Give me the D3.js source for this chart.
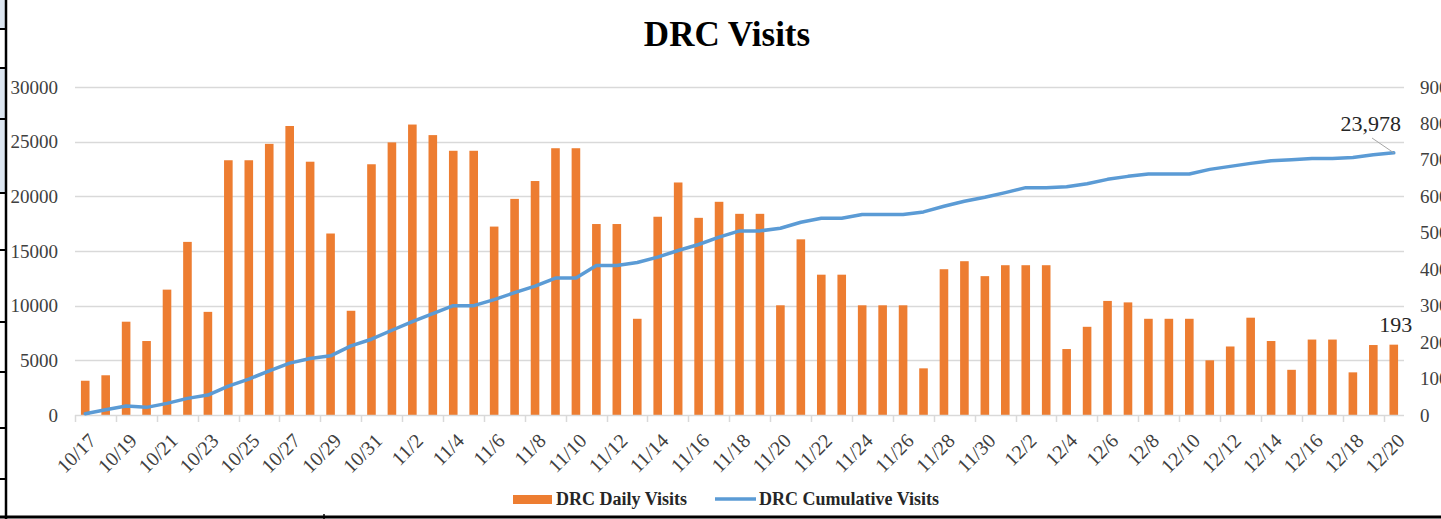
<!DOCTYPE html>
<html>
<head>
<meta charset="utf-8">
<script src="https://cdn.jsdelivr.net/npm/d3@7"></script>
<style>
  html, body { margin: 0; padding: 0; background: #ffffff; overflow: hidden; }
  svg { display: block; }
</style>
</head>
<body>
<div class="chart-container"></div>
<script>
var days = ['10/17','10/18','10/19','10/20','10/21','10/22','10/23','10/24','10/25','10/26',
    '10/27','10/28','10/29','10/30','10/31','11/1','11/2','11/3','11/4','11/5',
    '11/6','11/7','11/8','11/9','11/10','11/11','11/12','11/13','11/14','11/15',
    '11/16','11/17','11/18','11/19','11/20','11/21','11/22','11/23','11/24','11/25',
    '11/26','11/27','11/28','11/29','11/30','12/1','12/2','12/3','12/4','12/5',
    '12/6','12/7','12/8','12/9','12/10','12/11','12/12','12/13','12/14','12/15',
    '12/16','12/17','12/18','12/19','12/20'];

// daily visits (right axis, 0-900)
var dailyVisits = [94,109,256,203,344,475,283,699,699,744,
    793,695,498,286,688,748,797,768,725,725,
    517,593,642,732,732,524,524,264,544,638,
    541,585,552,552,301,482,385,385,301,301,
    301,128,400,422,381,411,411,411,181,242,
    313,309,264,264,264,150,188,267,203,124,
    207,207,117,192,193];

// cumulative visits (left axis, 0-30000)
var cumulativeVisits = [122,486,821,699,1064,1520,1824,2645,3283,4043,
    4742,5168,5411,6323,6931,7752,8550,9272,10002,10002,
    10549,11187,11795,12525,12525,13680,13680,13954,14440,15048,
    15595,16264,16840,16840,17085,17632,17997,17997,18331,18331,
    18331,18574,19091,19547,19912,20338,20794,20794,20870,21158,
    21554,21827,22040,22040,22040,22466,22739,23013,23256,23347,
    23469,23469,23560,23803,23978];

var leftTicks = [0,5000,10000,15000,20000,25000,30000];
var rightTicks = [0,100,200,300,400,500,600,700,800,900];
var seriesNames = ['DRC Daily Visits', 'DRC Cumulative Visits'];

var W = 1441, H = 519;
var plotLeft = 75, plotRight = 1404, plotTop = 87, plotBottom = 415;
var serif = '"Liberation Serif", "Times New Roman", serif';
var orange = '#ed7d31', blue = '#5b9bd5';

var svg = d3.select('.chart-container').append('svg')
    .attr('width', W).attr('height', H);

// spreadsheet cell edges around the pasted chart
var cellRows = [29, 68, 119, 193, 250, 322, 372, 428, 479];
svg.append('rect').attr('x', 0).attr('y', 0).attr('width', 5).attr('height', 29).style('fill', '#dce6f1');
svg.append('rect').attr('x', 0).attr('y', 68).attr('width', 5).attr('height', 125).style('fill', '#dce6f1');
svg.append('line').attr('x1', 6).attr('x2', 6).attr('y1', 0).attr('y2', H)
    .style('stroke', '#000').style('stroke-width', 2.5);
svg.selectAll('.cell-row').data(cellRows).enter().append('line')
    .attr('class', 'cell-row')
    .attr('x1', 0).attr('x2', 7).attr('y1', function(d) { return d; }).attr('y2', function(d) { return d; })
    .style('stroke', '#000').style('stroke-width', 2);
svg.append('line').attr('x1', 0).attr('x2', W).attr('y1', 517).attr('y2', 517)
    .style('stroke', '#000').style('stroke-width', 3);
svg.append('line').attr('x1', 324).attr('x2', 324).attr('y1', 514).attr('y2', H)
    .style('stroke', '#000').style('stroke-width', 1.5);

var x = d3.scaleBand().domain(days).range([plotLeft, plotRight]).padding(0);
var yLeft = d3.scaleLinear().domain([0, 30000]).range([plotBottom, plotTop]);
var yRight = d3.scaleLinear().domain([0, 900]).range([plotBottom, plotTop]);
var barWidth = 8.6;

// gridlines
svg.append('g').selectAll('line').data(leftTicks.slice(1)).enter().append('line')
    .attr('x1', plotLeft).attr('x2', plotRight)
    .attr('y1', function(d) { return Math.round(yLeft(d)) + 0.5; })
    .attr('y2', function(d) { return Math.round(yLeft(d)) + 0.5; })
    .style('stroke', '#d9d9d9').style('stroke-width', 1.5);

// left axis
var leftAxis = svg.append('g').attr('transform', 'translate(' + 58 + ',0)')
    .call(d3.axisLeft(yLeft).tickValues(leftTicks).tickFormat(d3.format('d')).tickSize(0).tickPadding(0));
leftAxis.select('.domain').remove();
leftAxis.selectAll('text').style('font-family', serif).style('font-size', '19px').style('fill', '#404040');

// right axis (runs past the right edge, as in the source)
var rightAxis = svg.append('g').attr('transform', 'translate(' + 1420 + ',0)')
    .call(d3.axisRight(yRight).tickValues(rightTicks).tickFormat(d3.format('d')).tickSize(0).tickPadding(0));
rightAxis.select('.domain').remove();
rightAxis.selectAll('text').style('font-family', serif).style('font-size', '19px').style('fill', '#404040');

// bars
svg.append('g').selectAll('rect').data(dailyVisits).enter().append('rect')
    .attr('x', function(d, i) { return x(days[i]) + (x.bandwidth() - barWidth) / 2; })
    .attr('y', function(d) { return yRight(d); })
    .attr('width', barWidth)
    .attr('height', function(d) { return plotBottom - yRight(d); })
    .style('fill', orange);

// category axis
svg.append('line').attr('x1', plotLeft).attr('x2', plotRight)
    .attr('y1', plotBottom + 0.5).attr('y2', plotBottom + 0.5)
    .style('stroke', '#d9d9d9').style('stroke-width', 1.5);
var labelDays = days.filter(function(d, i) { return i % 2 === 0; });
svg.append('g').selectAll('line').data(labelDays).enter().append('line')
    .attr('x1', function(d) { return Math.round(x(d)) + 0.5; })
    .attr('x2', function(d) { return Math.round(x(d)) + 0.5; })
    .attr('y1', plotBottom).attr('y2', plotBottom + 7)
    .style('stroke', '#d9d9d9').style('stroke-width', 1.5);
var xAxis = svg.append('g').attr('transform', 'translate(0,' + plotBottom + ')')
    .call(d3.axisBottom(x).tickValues(labelDays).tickSize(0));
xAxis.select('.domain').remove();
xAxis.selectAll('text')
    .style('font-family', serif).style('font-size', '20px').style('fill', '#404040')
    .attr('text-anchor', 'end')
    .attr('dy', 0).attr('y', 0)
    .attr('transform', 'translate(12,27) rotate(-45)');

// cumulative line
var line = d3.line()
    .x(function(d, i) { return x(days[i]) + x.bandwidth() / 2; })
    .y(function(d) { return yLeft(d); });
svg.append('path').datum(cumulativeVisits)
    .attr('d', line)
    .style('fill', 'none').style('stroke', blue).style('stroke-width', 3.5)
    .style('stroke-linejoin', 'round').style('stroke-linecap', 'round');

// data labels on the last point
var last = days.length - 1;
var lastX = x(days[last]) + x.bandwidth() / 2;
svg.append('text').text(d3.format(',')(cumulativeVisits[last]))
    .attr('x', 1401).attr('y', 131).attr('text-anchor', 'end')
    .style('font-family', serif).style('font-size', '22px').style('fill', '#262626');
svg.append('line').attr('x1', 1372).attr('y1', 138).attr('x2', lastX).attr('y2', yLeft(cumulativeVisits[last]))
    .style('stroke', '#a6a6a6').style('stroke-width', 1);
svg.append('text').text(dailyVisits[last])
    .attr('x', lastX + 2).attr('y', yRight(dailyVisits[last]) - 13).attr('text-anchor', 'middle')
    .style('font-family', serif).style('font-size', '22px').style('fill', '#262626');

// title
svg.append('text').text('DRC Visits')
    .attr('x', 727).attr('y', 46).attr('text-anchor', 'middle')
    .style('font-family', serif).style('font-size', '35px').style('font-weight', 'bold').style('fill', '#000');

// legend
svg.append('rect').attr('x', 513).attr('y', 495).attr('width', 39).attr('height', 9).style('fill', orange);
svg.append('text').text(seriesNames[0]).attr('x', 556).attr('y', 505)
    .style('font-family', serif).style('font-size', '18px').style('font-weight', 'bold').style('fill', '#262626');
svg.append('line').attr('x1', 715).attr('x2', 756).attr('y1', 499).attr('y2', 499)
    .style('stroke', blue).style('stroke-width', 3.5);
svg.append('text').text(seriesNames[1]).attr('x', 759).attr('y', 505)
    .style('font-family', serif).style('font-size', '18px').style('font-weight', 'bold').style('fill', '#262626');
</script>
</body>
</html>
